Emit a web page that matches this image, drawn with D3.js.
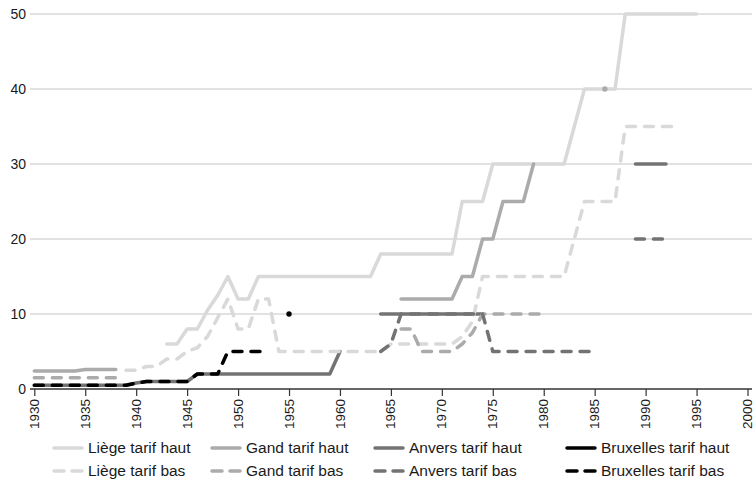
<!DOCTYPE html>
<html><head><meta charset="utf-8">
<script src="https://cdn.jsdelivr.net/npm/d3@7"></script>
<style>
body{margin:0;background:#fff}
svg{display:block}
text{font-family:"Liberation Sans",Arial,sans-serif;fill:#1a1a1a}
</style>
</head><body>
<svg id="chart" width="754" height="488"></svg>
<script>
// ---- data ----
const xTicks = [1930,1935,1940,1945,1950,1955,1960,1965,1970,1975,1980,1985,1990,1995,2000];
const yTicks = [0,10,20,30,40,50];

const liegeHaut = [[1943,6],[1944,6],[1945,8],[1946,8],[1947,10.5],[1948,12.5],[1949,15],[1950,12],[1951,12],
  [1952,15],[1953,15],[1954,15],[1955,15],[1956,15],[1957,15],[1958,15],[1959,15],[1960,15],[1961,15],[1962,15],[1963,15],
  [1964,18],[1965,18],[1966,18],[1967,18],[1968,18],[1969,18],[1970,18],[1971,18],
  [1972,25],[1973,25],[1974,25],[1975,30],[1976,30],[1977,30],[1978,30],[1979,30],[1980,30],[1981,30],[1982,30],
  [1983,35],[1984,40],[1985,40],[1986,40],[1987,40],
  [1988,50],[1989,50],[1990,50],[1991,50],[1992,50],[1993,50],[1994,50],[1995,50]];

const gandHaut = [[1930,2.4],[1931,2.4],[1932,2.4],[1933,2.4],[1934,2.4],[1935,2.6],[1936,2.6],[1937,2.6],[1938,2.6],[1939,null],
  [1966,12],[1967,12],[1968,12],[1969,12],[1970,12],[1971,12],[1972,15],[1973,15],[1974,20],[1975,20],
  [1976,25],[1977,25],[1978,25],[1979,30],[1980,null],[1986,40]];

const anversHaut = [[1930,0.5],[1931,0.5],[1932,0.5],[1933,0.5],[1934,0.5],[1935,0.5],[1936,0.5],[1937,0.5],[1938,0.5],[1939,0.5],
  [1940,0.8],[1941,1],[1942,1],[1943,1],[1944,1],[1945,1],
  [1946,2],[1947,2],[1948,2],[1949,2],[1950,2],[1951,2],[1952,2],[1953,2],[1954,2],[1955,2],[1956,2],[1957,2],[1958,2],[1959,2],
  [1960,5],[1961,null],
  [1964,10],[1965,10],[1966,10],[1967,10],[1968,10],[1969,10],[1970,10],[1971,10],[1972,10],[1973,10],[1974,10],[1975,null],
  [1989,30],[1990,30],[1991,30],[1992,30]];

const bruxellesHaut = [[1955,10]];

const liegeBas = [[1939,2.5],[1940,2.5],[1941,3],[1942,3],[1943,4],[1944,4],[1945,5],[1946,5.5],[1947,7],[1948,9.5],[1949,12],
  [1950,8],[1951,8],[1952,12],[1953,12],
  [1954,5],[1955,5],[1956,5],[1957,5],[1958,5],[1959,5],[1960,5],[1961,5],[1962,5],[1963,5],[1964,5],
  [1965,6],[1966,6],[1967,6],[1968,6],[1969,6],[1970,6],[1971,6],[1972,7],[1973,9],
  [1974,15],[1975,15],[1976,15],[1977,15],[1978,15],[1979,15],[1980,15],[1981,15],[1982,15],
  [1983,20],[1984,25],[1985,25],[1986,25],[1987,25],
  [1988,35],[1989,35],[1990,35],[1991,35],[1992,35],[1993,35]];

const gandBas = [[1930,1.5],[1931,1.5],[1932,1.5],[1933,1.5],[1934,1.5],[1935,1.5],[1936,1.5],[1937,1.5],[1938,1.5],[1939,null],
  [1966,8],[1967,8],[1968,5],[1969,5],[1970,5],[1971,5],[1972,6],[1973,7.5],
  [1974,10],[1975,10],[1976,10],[1977,10],[1978,10],[1979,10],[1980,10]];

const anversBas = [[1964,5],[1965,6],[1966,10],[1967,10],[1968,10],[1969,10],[1970,10],[1971,10],[1972,10],[1973,10],[1974,10],
  [1975,5],[1976,5],[1977,5],[1978,5],[1979,5],[1980,5],[1981,5],[1982,5],[1983,5],[1984,5],[1985,5],[1986,null],
  [1989,20],[1990,20],[1991,20],[1992,20]];

const bruxellesBas = [[1930,0.5],[1931,0.5],[1932,0.5],[1933,0.5],[1934,0.5],[1935,0.5],[1936,0.5],[1937,0.5],[1938,0.5],[1939,0.5],
  [1940,0.8],[1941,1],[1942,1],[1943,1],[1944,1],[1945,1],[1946,2],[1947,2],[1948,2],
  [1949,5],[1950,5],[1951,5],[1952,5],[1953,5]];

const seriesNames = ["Liège tarif haut","Gand tarif haut","Anvers tarif haut","Bruxelles tarif haut",
                     "Liège tarif bas","Gand tarif bas","Anvers tarif bas","Bruxelles tarif bas"];
const seriesData = [liegeHaut,gandHaut,anversHaut,bruxellesHaut,liegeBas,gandBas,anversBas,bruxellesBas];

// ---- styles ----
const colors = ["#d9d9d9","#ababab","#737373","#000000","#d9d9d9","#ababab","#737373","#000000"];
const dashed = [false,false,false,false,true,true,true,true];
const lineW = 3.5;
const dashArr = "9,9";

const svg = d3.select("#chart");
const x = d3.scaleLinear().domain([1930,2000]).range([34.3,747.5]);
const y = d3.scaleLinear().domain([0,50]).range([389,14]);

// gridlines
svg.append("g").selectAll("line").data(yTicks.filter(d=>d>0)).join("line")
  .attr("x1",30).attr("x2",752).attr("y1",d=>y(d)).attr("y2",d=>y(d))
  .attr("stroke","#c4c4c4").attr("stroke-width",1);

// y labels
svg.append("g").selectAll("text").data(yTicks).join("text")
  .attr("x",26).attr("y",d=>y(d)).attr("dy","0.35em").attr("text-anchor","end")
  .attr("font-size",14).text(d=>d);

// x axis
const xAxis = d3.axisBottom(x).tickValues(xTicks).tickFormat(d3.format("d")).tickSize(7).tickSizeOuter(0);
const gx = svg.append("g").attr("transform","translate(0,389)").call(xAxis);
gx.select(".domain").attr("d","M30,0H752").attr("stroke","#333").attr("stroke-width",1.6);
gx.selectAll(".tick line").attr("stroke","#333").attr("stroke-width",1.2);
gx.selectAll(".tick text").attr("font-size",13.5).attr("font-family",'"Liberation Sans",Arial,sans-serif')
  .attr("fill","#1a1a1a")
  .attr("transform","rotate(-90)").attr("text-anchor","end")
  .attr("x",-10).attr("y",0).attr("dy","0.3em");

// lines
const line = d3.line().defined(d=>d[1]!==null).x(d=>x(d[0])).y(d=>y(d[1]));
const gl = svg.append("g");
seriesData.forEach((data,i)=>{
  gl.append("path").datum(data).attr("d",line)
    .attr("fill","none").attr("stroke",colors[i]).attr("stroke-width",lineW)
    .attr("stroke-linejoin","round").attr("stroke-linecap","round")
    .attr("stroke-dasharray",dashed[i]?dashArr:null);
  // isolated points
  const iso = data.filter((d,k)=>d[1]!==null &&
      (k===0 || data[k-1][1]===null) && (k===data.length-1 || data[k+1][1]===null));
  gl.selectAll(null).data(iso).join("circle")
    .attr("cx",d=>x(d[0])).attr("cy",d=>y(d[1])).attr("r",2.7).attr("fill",colors[i]);
});

// legend
const legX = [52,210,373,565];
const legY = [448,471];
const lg = svg.append("g");
seriesNames.forEach((name,i)=>{
  const col = i%4, row = Math.floor(i/4);
  const g = lg.append("g").attr("transform",`translate(${legX[col]},${legY[row]})`);
  g.append("line").attr("x1",2).attr("x2",30).attr("y1",0).attr("y2",0)
    .attr("stroke",colors[i]).attr("stroke-width",lineW).attr("stroke-linecap","round")
    .attr("stroke-dasharray",dashed[i]?"10,8":null);
  g.append("text").attr("x",36).attr("y",0).attr("dy","0.35em").attr("font-size",15.5).text(name);
});
</script>
</body></html>
